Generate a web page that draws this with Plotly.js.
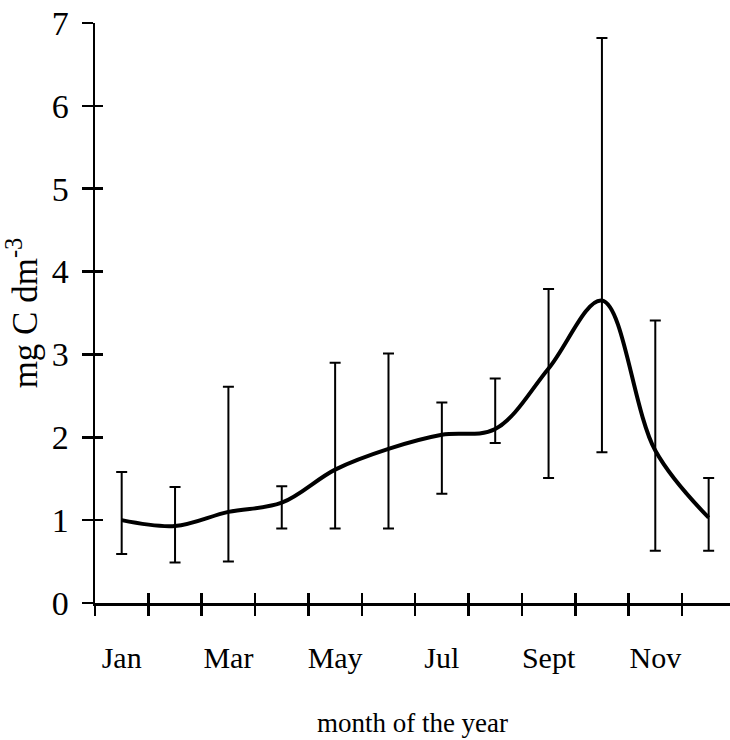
<!DOCTYPE html>
<html>
<head>
<meta charset="utf-8">
<script src="https://cdn.plot.ly/plotly-3.0.1.min.js"></script>
<style>
  html, body { margin: 0; padding: 0; background: #fff; }
  #chart { width: 730px; height: 740px; }
</style>
</head>
<body>
<div id="chart"></div>
<script>
// Monthly carbon concentration (mg C dm-3): mean with asymmetric range
const monthPos = [0.5, 1.5, 2.5, 3.5, 4.5, 5.5, 6.5, 7.5, 8.5, 9.5, 10.5, 11.5];
const meanC    = [1.00, 0.93, 1.10, 1.21, 1.61, 1.86, 2.03, 2.10, 2.83, 3.65, 1.84, 1.03];
const upperC   = [1.58, 1.40, 2.61, 1.41, 2.90, 3.01, 2.42, 2.71, 3.79, 6.82, 3.41, 1.51];
const lowerC   = [0.59, 0.49, 0.50, 0.90, 0.90, 0.90, 1.32, 1.93, 1.51, 1.82, 0.63, 0.63];

// Labelled months (every second month) and month boundaries for the tick marks
const labelPos  = [0.5, 2.5, 4.5, 6.5, 8.5, 10.5];
const labelText = ['Jan', 'Mar', 'May', 'Jul', 'Sept', 'Nov'];
const monthEdges = [0, 1, 2, 3, 4, 5, 6, 7, 8, 9, 10, 11];
const yTicks = [0, 1, 2, 3, 4, 5, 6, 7];

const errPlus  = upperC.map((u, i) => +(u - meanC[i]).toFixed(3));
const errMinus = meanC.map((m, i) => +(m - lowerC[i]).toFixed(3));

const serif = 'Liberation Serif, Times New Roman, serif';
const xRange = [0, 11.9];
const yRange = [0, 7];

const traces = [
  {
    x: monthPos, y: meanC,
    type: 'scatter', mode: 'lines',
    line: { color: '#000', width: 4, shape: 'spline', smoothing: 1 },
    error_y: {
      type: 'data', symmetric: false,
      array: errPlus, arrayminus: errMinus,
      color: '#000', thickness: 2, width: 5.5
    },
    hoverinfo: 'skip', showlegend: false
  },
  // carriers for the crossing tick marks drawn on overlay axes
  { x: monthPos, y: meanC, xaxis: 'x2', yaxis: 'y', mode: 'none', hoverinfo: 'skip', showlegend: false },
  { x: monthPos, y: meanC, xaxis: 'x3', yaxis: 'y2', mode: 'none', hoverinfo: 'skip', showlegend: false }
];

const layout = {
  width: 730, height: 740,
  margin: { l: 95, r: 0, t: 23, b: 137 },
  paper_bgcolor: '#fff', plot_bgcolor: '#fff',
  showlegend: false,
  font: { family: serif, color: '#000' },
  xaxis: {
    range: xRange, fixedrange: true,
    tickvals: labelPos, ticktext: labelText,
    ticks: '', showgrid: false, zeroline: false,
    showline: true, linecolor: '#000', linewidth: 2.5,
    tickfont: { family: serif, size: 30, color: '#000' },
    ticklabelstandoff: 26,
    title: { text: 'month of the year', font: { family: serif, size: 27, color: '#000' }, standoff: 41 }
  },
  xaxis2: {
    range: xRange, overlaying: 'x', anchor: 'y',
    tickvals: monthEdges, ticks: 'outside', ticklen: 12, tickwidth: 2.5, tickcolor: '#000',
    showticklabels: false, showgrid: false, zeroline: false, showline: false
  },
  xaxis3: {
    range: xRange, overlaying: 'x', anchor: 'y2',
    tickvals: monthEdges, ticks: 'inside', ticklen: 10, tickwidth: 2.5, tickcolor: '#000',
    showticklabels: false, showgrid: false, zeroline: false, showline: false
  },
  yaxis: {
    range: yRange, fixedrange: true,
    tickvals: yTicks,
    ticks: 'outside', ticklen: 11, tickwidth: 2.5, tickcolor: '#000',
    showgrid: false, zeroline: false,
    showline: true, linecolor: '#000', linewidth: 2.5,
    tickfont: { family: serif, size: 34, color: '#000' },
    ticklabelstandoff: 6,
    title: { text: 'mg C dm<sup>-3</sup>', font: { family: serif, size: 35, color: '#000' }, standoff: 14 }
  },
  yaxis2: {
    range: yRange, overlaying: 'y', anchor: 'x', side: 'left',
    tickvals: yTicks, ticks: 'inside', ticklen: 8, tickwidth: 2.5, tickcolor: '#000',
    showticklabels: false, showgrid: false, zeroline: false, showline: false
  }
};

Plotly.newPlot('chart', traces, layout, { staticPlot: true, displayModeBar: false });
</script>
</body>
</html>
